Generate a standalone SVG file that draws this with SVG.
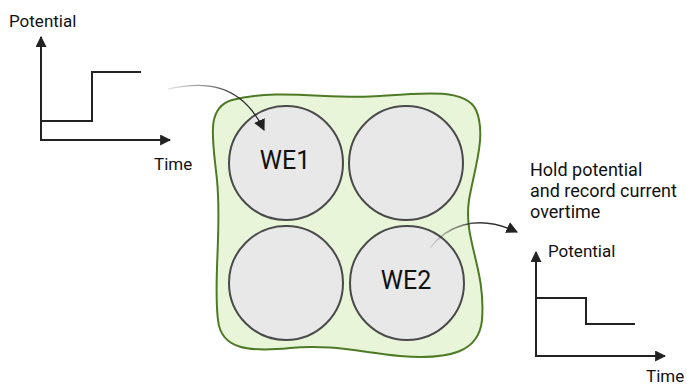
<svg xmlns="http://www.w3.org/2000/svg" width="687" height="387" viewBox="0 0 687 387">
  <style>
    .lbl { font-family: Roboto, "Liberation Sans", sans-serif; fill: #111; }
    .axis { fill: none; stroke: #222; stroke-width: 2; }
    .trace { fill: none; stroke: #222; stroke-width: 2; }
    .well { fill: #e8e8e8; stroke: #4a4a4a; stroke-width: 2; }
    .link { fill: none; stroke-width: 1.3; }
  </style>
  <defs>
    <marker id="axisHead" viewBox="0 0 10 10" refX="9" refY="5" markerWidth="5.5" markerHeight="5.5" orient="auto" markerUnits="strokeWidth">
      <path d="M0,0 L10,5 L0,10 Z" fill="#222"/>
    </marker>
    <marker id="linkHead" viewBox="0 0 10 10" refX="9" refY="5" markerWidth="9" markerHeight="9" orient="auto" markerUnits="strokeWidth">
      <path d="M0,0 L10,5 L0,10 Z" fill="#222"/>
    </marker>
    <linearGradient id="fadeIn1" gradientUnits="userSpaceOnUse" x1="168" y1="88" x2="265" y2="130">
      <stop offset="0" stop-color="#222" stop-opacity="0.1"/>
      <stop offset="0.6" stop-color="#222" stop-opacity="0.9"/>
      <stop offset="1" stop-color="#222"/>
    </linearGradient>
    <linearGradient id="fadeIn2" gradientUnits="userSpaceOnUse" x1="430" y1="248" x2="518" y2="232">
      <stop offset="0" stop-color="#222" stop-opacity="0.1"/>
      <stop offset="0.6" stop-color="#222" stop-opacity="0.9"/>
      <stop offset="1" stop-color="#222"/>
    </linearGradient>
  </defs>

  <!-- applied potential step -->
  <g id="input-plot">
    <text class="lbl" x="9" y="27" font-size="17">Potential</text>
    <path class="axis" d="M41,140 V37" marker-end="url(#axisHead)"/>
    <path class="axis" d="M40,140 H170" marker-end="url(#axisHead)"/>
    <path class="trace" d="M41,121 H92 V72 H141"/>
    <text class="lbl" x="154" y="170" font-size="17">Time</text>
  </g>

  <!-- electrode array -->
  <g id="array">
    <path d="M232,100 C280,88 330,100 380,96 C420,93 466,88 476,110 C487,135 474,170 469,200 C463,240 486,268 482,320 C479,352 450,360 400,356 C360,352 330,344 290,348 C250,352 221,350 218,320 C213,280 222,230 217,180 C213,140 205,108 232,100 Z" fill="#e9f5d9" stroke="#4e7a26" stroke-width="2"/>
  </g>
  <g id="we1">
    <circle class="well" cx="286" cy="163" r="57"/>
    <text class="lbl" x="285" y="169" font-size="25" text-anchor="middle">WE1</text>
  </g>
  <g id="well-tr">
    <circle class="well" cx="406" cy="163" r="57"/>
  </g>
  <g id="well-bl">
    <circle class="well" cx="286" cy="283" r="57"/>
  </g>
  <g id="we2">
    <circle class="well" cx="407" cy="283" r="57"/>
    <text class="lbl" x="406" y="289" font-size="25" text-anchor="middle">WE2</text>
  </g>

  <!-- connectors -->
  <g id="connectors">
    <path class="link" d="M168,89 C200,82 240,80 264,130" stroke="url(#fadeIn1)" marker-end="url(#linkHead)"/>
    <path class="link" d="M430,248 C445,228 475,212 517,232" stroke="url(#fadeIn2)" marker-end="url(#linkHead)"/>
  </g>

  <!-- recorded response -->
  <g id="output-plot">
    <text class="lbl" x="530" y="176" font-size="18">Hold potential</text>
    <text class="lbl" x="530" y="197" font-size="18">and record current</text>
    <text class="lbl" x="530" y="218" font-size="18">overtime</text>
    <text class="lbl" x="548" y="257" font-size="17">Potential</text>
    <path class="axis" d="M536,356 V252" marker-end="url(#axisHead)"/>
    <path class="axis" d="M535,356 H665" marker-end="url(#axisHead)"/>
    <path class="trace" d="M536,298 H586 V324 H635"/>
    <text class="lbl" x="646" y="382" font-size="17">Time</text>
  </g>
</svg>
